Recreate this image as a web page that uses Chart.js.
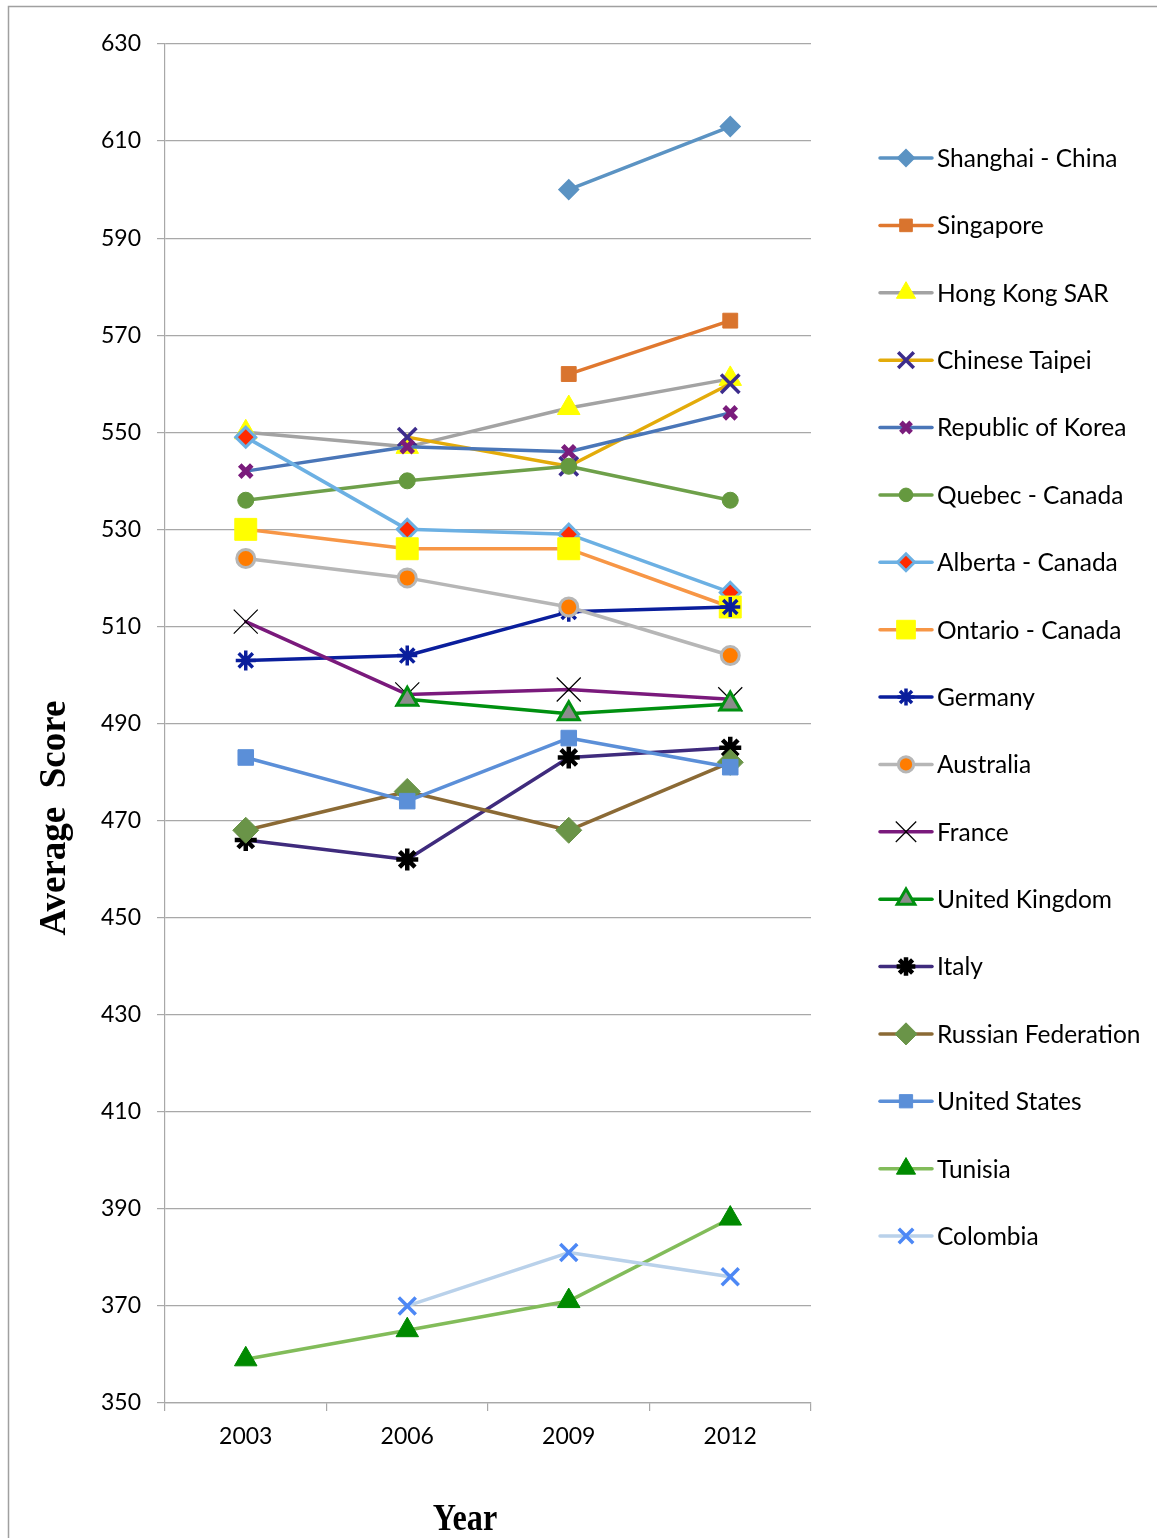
<!DOCTYPE html>
<html>
<head>
<meta charset="utf-8">
<script src="https://cdn.jsdelivr.net/npm/chart.js@4/dist/chart.umd.min.js"></script>
<style>
  html, body { margin: 0; padding: 0; background: #fff; }
  canvas { display: block; }
</style>
</head>
<body>
<canvas id="c" width="1157" height="1538"></canvas>
<script>
// ---------- DATA ----------
const years = ['2003', '2006', '2009', '2012'];
const seriesNames = [
  'Shanghai - China', 'Singapore', 'Hong Kong SAR', 'Chinese Taipei',
  'Republic of Korea', 'Quebec - Canada', 'Alberta - Canada', 'Ontario - Canada',
  'Germany', 'Australia', 'France', 'United Kingdom', 'Italy',
  'Russian Federation', 'United States', 'Tunisia', 'Colombia'
];
const shanghai     = [null, null, 600, 613];
const singapore    = [null, null, 562, 573];
const hongKong     = [550, 547, 555, 561];
const chineseTaipei= [null, 549, 543, 560];
const korea        = [542, 547, 546, 554];
const quebec       = [536, 540, 543, 536];
const alberta      = [549, 530, 529, 517];
const ontario      = [530, 526, 526, 514];
const germany      = [503, 504, 513, 514];
const australia    = [524, 520, 514, 504];
const france       = [511, 496, 497, 495];
const unitedKingdom= [null, 495, 492, 494];
const italy        = [466, 462, 483, 485];
const russia       = [468, 476, 468, 482];
const unitedStates = [483, 474, 487, 481];
const tunisia      = [359, 365, 371, 388];
const colombia     = [null, 370, 381, 376];
const yMin = 350, yMax = 630, yStep = 20;
const yTitle = 'Average  Score';
const xTitle = 'Year';

const allValues = [shanghai, singapore, hongKong, chineseTaipei, korea, quebec, alberta,
  ontario, germany, australia, france, unitedKingdom, italy, russia, unitedStates, tunisia, colombia];

// ---------- STYLES ----------
const styles = [
  { line: '#5b93c3', ps: 'rectRot',  r: 9.5, bg: '#5b93c3', bc: '#5b93c3', bw: 2 },
  { line: '#e0782f', ps: 'rect',     r: 10.5, bg: '#d9742e', bc: '#d9742e', bw: 1 },
  { line: '#a3a3a3', ps: 'triangle', r: 13, bg: '#ffff00', bc: '#ffff00', bw: 1 },
  { line: '#e3ab0a', ps: 'crossRot', r: 13, bg: '#3c2c8c', bc: '#3c2c8c', bw: 3.5 },
  { line: '#4a76b8', ps: 'crossRot', r: 8.5, bg: '#7a1c7c', bc: '#7a1c7c', bw: 5 },
  { line: '#6ea04a', ps: 'circle',   r: 8,  bg: '#65993f', bc: '#65993f', bw: 1 },
  { line: '#6cb0e3', ps: 'rectRot',  r: 10, bg: '#ff2a00', bc: '#6cb0e3', bw: 3 },
  { line: '#f79646', ps: 'rect',     r: 15.5, bg: '#ffff00', bc: '#ffff00', bw: 1 },
  { line: '#0a1e9c', ps: 'star',     r: 10, bg: '#0a1e9c', bc: '#0a1e9c', bw: 3.5 },
  { line: '#b6b6b6', ps: 'circle',   r: 9,  bg: '#ff7c00', bc: '#b6b6b6', bw: 3 },
  { line: '#7a1a7c', ps: 'crossRot', r: 17, bg: '#000000', bc: '#000000', bw: 1.2 },
  { line: '#009010', ps: 'triangle', r: 12, bg: '#8c8c8c', bc: '#009010', bw: 3 },
  { line: '#3f2b7d', ps: 'star',     r: 11, bg: '#000000', bc: '#000000', bw: 4.5 },
  { line: '#8b6a35', ps: 'rectRot',  r: 13, bg: '#6a9448', bc: '#6a9448', bw: 1 },
  { line: '#5b8fd8', ps: 'rect',     r: 11, bg: '#5b8fd8', bc: '#5b8fd8', bw: 1 },
  { line: '#82bc5a', ps: 'triangle', r: 13, bg: '#008a00', bc: '#008a00', bw: 1 },
  { line: '#b9d1ea', ps: 'crossRot', r: 12, bg: '#4d88f5', bc: '#4d88f5', bw: 3.5 }
];

const N = seriesNames.length;
const datasets = seriesNames.map((name, i) => ({
  label: name,
  data: allValues[i],
  borderColor: styles[i].line,
  backgroundColor: styles[i].bg,
  borderWidth: 3.5,
  tension: 0,
  pointStyle: styles[i].ps,
  pointRadius: styles[i].r,
  pointHoverRadius: styles[i].r,
  pointBackgroundColor: styles[i].bg,
  pointBorderColor: styles[i].bc,
  pointBorderWidth: styles[i].bw,
  spanGaps: false,
  order: N - i
}));

const FONT = 'Lato, "Open Sans", sans-serif';
const GRID = '#a8a8a8';

const framePlugin = {
  id: 'frame',
  beforeDraw(chart) {
    const ctx = chart.ctx;
    ctx.save();
    ctx.fillStyle = '#ffffff';
    ctx.fillRect(0, 0, chart.width, chart.height);
    ctx.strokeStyle = '#a0a0a0';
    ctx.lineWidth = 1.5;
    ctx.strokeRect(8.5, 6.5, chart.width + 20, chart.height + 20);
    ctx.restore();
  }
};

const titlesPlugin = {
  id: 'titles',
  afterDraw(chart) {
    const ctx = chart.ctx;
    ctx.save();
    ctx.fillStyle = '#000';
    ctx.font = 'bold 37px "Liberation Serif", "Times New Roman", serif';
    // y title
    ctx.save();
    ctx.translate(65, 818);
    ctx.rotate(-Math.PI / 2);
    ctx.textAlign = 'center';
    ctx.textBaseline = 'alphabetic';
    ctx.fillText(yTitle, 0, 0);
    ctx.restore();
    // x title
    ctx.save();
    ctx.translate(465, 1530);
    ctx.scale(0.87, 1);
    ctx.textAlign = 'center';
    ctx.textBaseline = 'alphabetic';
    ctx.fillText(xTitle, 0, 0);
    ctx.restore();
    ctx.restore();
  }
};

const legendPlugin = {
  id: 'customLegend',
  afterDraw(chart) {
    const ctx = chart.ctx;
    const x0 = 880, x1 = 932, xm = 906, xt = 937;
    const yStart = 158, dy = 67.375;
    chart.data.datasets.forEach((ds, i) => {
      const y = yStart + i * dy;
      ctx.save();
      ctx.strokeStyle = ds.borderColor;
      ctx.lineWidth = ds.borderWidth;
      ctx.lineCap = 'round';
      ctx.beginPath();
      ctx.moveTo(x0, y);
      ctx.lineTo(x1, y);
      ctx.stroke();
      ctx.lineCap = 'butt';
      ctx.fillStyle = ds.pointBackgroundColor;
      ctx.strokeStyle = ds.pointBorderColor;
      ctx.lineWidth = ds.pointBorderWidth;
      if (Chart.helpers && Chart.helpers.drawPoint) {
        Chart.helpers.drawPoint(ctx, {
          pointStyle: ds.pointStyle,
          radius: ds.pointRadius * 0.85,
          rotation: 0,
          borderWidth: ds.pointBorderWidth
        }, xm, y);
      }
      ctx.fillStyle = '#000';
      ctx.font = '24.5px ' + FONT;
      ctx.textAlign = 'left';
      ctx.textBaseline = 'middle';
      ctx.fillText(ds.label, xt, y + 1);
      ctx.restore();
    });
  }
};

new Chart(document.getElementById('c'), {
  type: 'line',
  data: { labels: years, datasets },
  options: {
    responsive: false,
    animation: false,
    devicePixelRatio: 1,
    layout: { padding: { left: 0, top: 44, right: 346, bottom: 0 } },
    plugins: { legend: { display: false }, tooltip: { enabled: false } },
    elements: { line: { borderCapStyle: 'round', borderJoinStyle: 'round' } },
    scales: {
      y: {
        min: yMin, max: yMax,
        afterFit(s) { s.width = 165; },
        ticks: { stepSize: yStep, color: '#000', font: { family: FONT, size: 23 }, padding: 16 },
        grid: { color: GRID, lineWidth: 1.2, tickLength: 8, drawTicks: true },
        border: { color: GRID, width: 1.2 }
      },
      x: {
        offset: true,
        afterFit(s) { s.height = 135; },
        ticks: { color: '#000', font: { family: FONT, size: 23 }, padding: 12 },
        grid: { offset: true, drawOnChartArea: false, drawTicks: true, tickLength: 8, color: GRID, lineWidth: 1.2 },
        border: { color: GRID, width: 1.2 }
      }
    }
  },
  plugins: [framePlugin, titlesPlugin, legendPlugin]
});
</script>
</body>
</html>
